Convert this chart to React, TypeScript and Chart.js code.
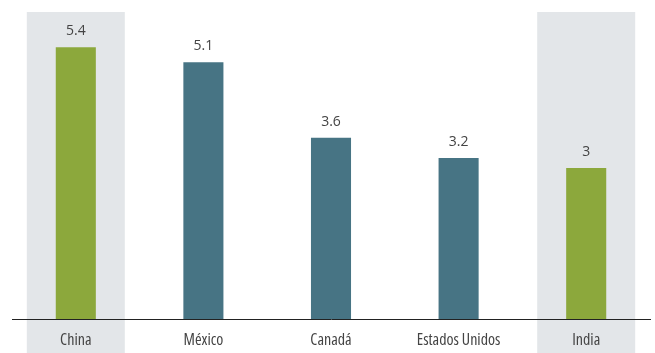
import React, { useEffect, useRef } from "react";
import { Chart, registerables } from "chart.js";

Chart.register(...registerables);

const categories = ["China", "México", "Canadá", "Estados Unidos", "India"];
const values = [5.4, 5.1, 3.6, 3.2, 3];
const highlighted = [true, false, false, false, true];

const GREEN = "#8ca83c";
const TEAL = "#477484";
const BAND = "#e3e6e9";
const TEXT = "#444444";
const FONT = "'Open Sans', 'Noto Sans', sans-serif";

const bandPlugin = {
  id: "bands",
  beforeDraw(chart: any) {
    const { ctx, scales } = chart;
    const x = scales.x;
    ctx.save();
    ctx.fillStyle = BAND;
    highlighted.forEach((h, i) => {
      if (!h) return;
      const cx = x.getPixelForValue(i);
      ctx.fillRect(cx - 49, chart.chartArea.top - 5, 98, chart.height);
    });
    ctx.restore();
  },
};

const valueLabelPlugin = {
  id: "valueLabels",
  afterDatasetsDraw(chart: any) {
    const { ctx } = chart;
    const meta = chart.getDatasetMeta(0);
    ctx.save();
    ctx.fillStyle = TEXT;
    ctx.font = `14px ${FONT}`;
    ctx.textAlign = "center";
    ctx.textBaseline = "middle";
    meta.data.forEach((bar: any, i: number) => {
      ctx.fillText(String(values[i]), bar.x, bar.y - 16);
    });
    ctx.restore();
  },
};

export default function App() {
  const ref = useRef<HTMLCanvasElement | null>(null);
  useEffect(() => {
    if (!ref.current) return;
    const chart = new Chart(ref.current, {
      type: "bar",
      data: {
        labels: categories,
        datasets: [
          {
            data: values,
            backgroundColor: highlighted.map((h) => (h ? GREEN : TEAL)),
            barPercentage: 0.314,
            categoryPercentage: 1,
          },
        ],
      },
      options: {
        animation: false,
        responsive: false,
        layout: { padding: { top: 17, left: 12, right: 5, bottom: 0 } },
        plugins: { legend: { display: false }, tooltip: { enabled: false } },
        scales: {
          x: {
            grid: { display: false, drawTicks: false },
            border: { display: true, color: "#222", width: 1 },
            ticks: {
              color: TEXT,
              font: { family: FONT, size: 16, weight: "condensed" as any },
              padding: 12,
            },
            afterFit: (scale: any) => {
              scale.height = 34;
            },
          },
          y: { display: false, min: 0, max: 6 },
        },
      },
      plugins: [bandPlugin, valueLabelPlugin],
    });
    return () => chart.destroy();
  }, []);
  return (
    <div style={{ position: "fixed", left: 0, top: 0, width: 655, height: 353, background: "#fff" }}>
      <canvas ref={ref} width={655} height={353} style={{ display: "block" }} />
    </div>
  );
}
